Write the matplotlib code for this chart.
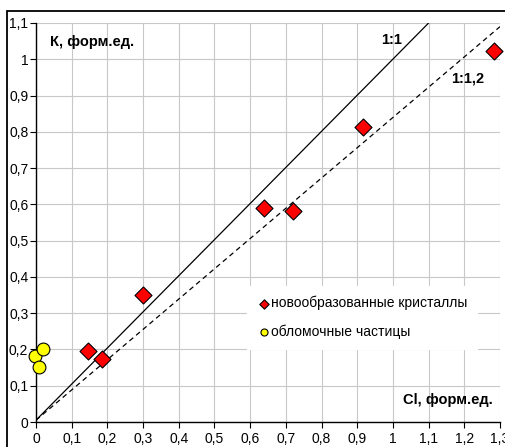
import matplotlib
matplotlib.use("Agg")
import matplotlib.pyplot as plt
import numpy as np
from matplotlib.patches import Rectangle

plt.rcParams['font.family'] = ['Liberation Sans', 'DejaVu Sans']

# Data
cryst_cl = [0.146, 0.185, 0.30, 0.639, 0.72, 0.916, 1.283]
cryst_k = [0.196, 0.174, 0.35, 0.59, 0.582, 0.813, 1.023]
frag_cl = [-0.003, 0.009, 0.020]
frag_k = [0.182, 0.152, 0.200]
line11_x = [0.0, 1.1]
line11_y = [0.005, 1.1]
line12_x = [0.0, 1.3]
line12_y = [0.005, 1.09]
xticks = np.round(np.arange(0, 1.31, 0.1), 1)
yticks = np.round(np.arange(0, 1.11, 0.1), 1)

def fmt(v):
    s = f"{v:.1f}".rstrip('0').rstrip('.') if v != 0 else "0"
    return s.replace('.', ',')

W, H = 506, 447
fig = plt.figure(figsize=(W/100, H/100), dpi=100)
# outer frame
fig.patches.append(Rectangle((7/W, -0.1), 1.2, (H-11)/H + 0.1, transform=fig.transFigure,
                             fill=False, edgecolor='black', linewidth=1.3, zorder=0))
ax = fig.add_axes([36/W, (H-422)/H, (500-36)/W, (422-23)/H])

ax.set_xlim(0, 1.3)
ax.set_ylim(0, 1.1)
ax.set_xticks(xticks)
ax.set_yticks(yticks)
ax.set_xticklabels([fmt(v) for v in xticks], fontsize=10)
ax.set_yticklabels([fmt(v) for v in yticks], fontsize=10)
ax.grid(True, color='#c8c8c8', linewidth=0.8)
ax.set_axisbelow(True)
for s in ['top', 'right']:
    ax.spines[s].set_visible(False)
for s in ['left', 'bottom']:
    ax.spines[s].set_linewidth(1.0)
ax.tick_params(axis='y', direction='out', length=4, width=0.8, pad=1.5)
ax.tick_params(axis='x', direction='out', length=4, width=0.8, pad=3)

ax.plot(line11_x, line11_y, color='black', linewidth=0.9, zorder=2)
ax.plot(line12_x, line12_y, color='black', linewidth=0.9, linestyle=(0, (4, 3)), zorder=2)

ax.scatter(cryst_cl, cryst_k, marker='D', s=75, facecolor='#ff0000', edgecolor='black',
           linewidth=0.8, zorder=4, clip_on=False, label='новообразованные кристаллы')
ax.scatter(frag_cl, frag_k, marker='o', s=85, facecolor='#ffff00', edgecolor='black',
           linewidth=0.8, zorder=4, clip_on=False, label='обломочные частицы')

leg = ax.legend(loc='upper left', bbox_to_anchor=(0.455, 0.34), frameon=True, fontsize=10,
                handletextpad=0.0, labelspacing=1.0, borderpad=0.7, handlelength=1.0,
                markerscale=0.55, fancybox=False, borderaxespad=0)
leg.get_frame().set_edgecolor('white')
leg.get_frame().set_facecolor('white')
leg.get_frame().set_alpha(1)

ax.text(0.039, 1.048, 'К, форм.ед.', fontsize=10.5, fontweight='bold', va='center', ha='left')
ax.text(1.28, 0.061, 'Cl, форм.ед.', fontsize=10.5, fontweight='bold', va='center', ha='right')
ax.text(0.997, 1.053, '1:1', fontsize=10.5, fontweight='bold', va='center', ha='center')
ax.text(1.21, 0.948, '1:1,2', fontsize=10.5, fontweight='bold', va='center', ha='center')

fig.savefig('out.png', dpi=100)
